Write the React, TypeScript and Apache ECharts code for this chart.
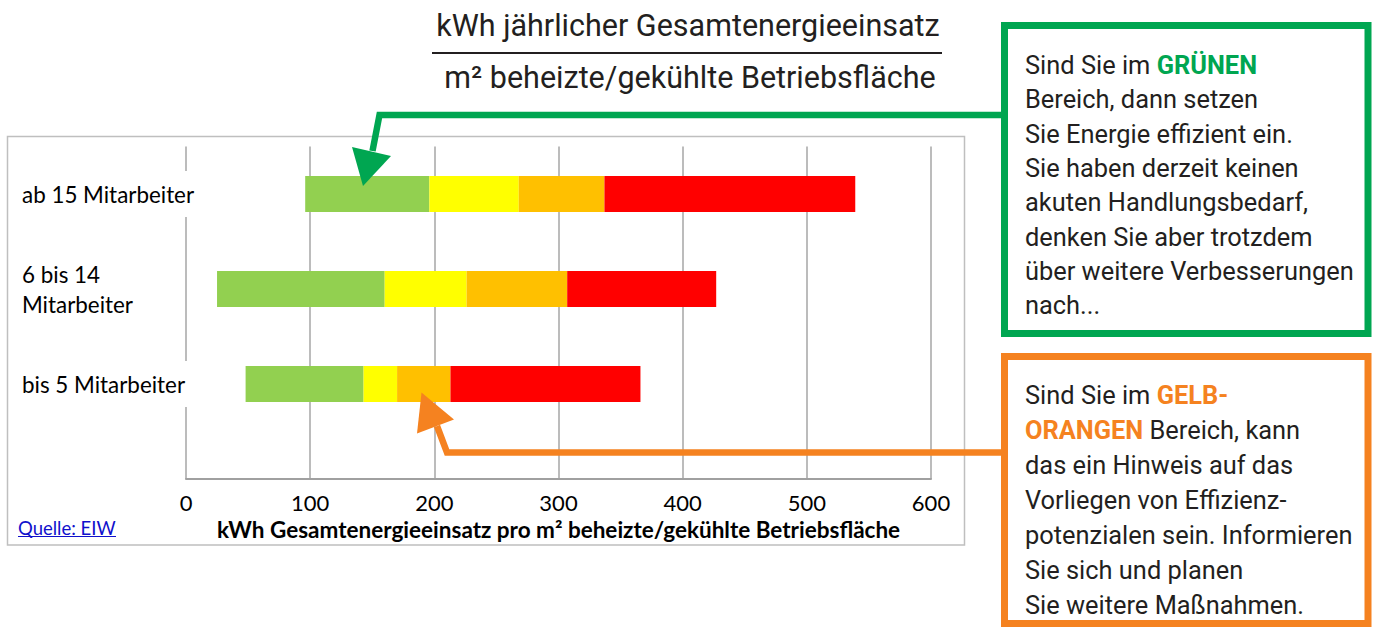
import React, { useEffect, useRef } from "react";
import * as echarts from "echarts";

// ---- data ----
const categories = ["bis 5 Mitarbeiter", "6 bis 14\nMitarbeiter", "ab 15 Mitarbeiter"];
const rangeStart = [48, 25, 96];
const greenEnd = [143, 160, 196];
const yellowEnd = [170, 226, 268];
const orangeEnd = [213, 307, 337];
const redEnd = [366, 427, 539];
const xTicks = [0, 100, 200, 300, 400, 500, 600];

const titleTop = "kWh jährlicher Gesamtenergieeinsatz";
const titleBottom = "m² beheizte/gekühlte Betriebsfläche";
const axisName = "kWh Gesamtenergieeinsatz pro m² beheizte/gekühlte Betriebsfläche";
const sourceText = "Quelle: EIW";
const greenBoxText =
  "Sind Sie im {g|GRÜNEN}\nBereich, dann setzen\nSie Energie effizient ein.\nSie haben derzeit keinen\nakuten Handlungsbedarf,\ndenken Sie aber trotzdem\nüber weitere Verbesserungen\nnach...";
const orangeBoxText =
  "Sind Sie im {o|GELB-}\n{o|ORANGEN} Bereich, kann\ndas ein Hinweis auf das\nVorliegen von Effizienz-\npotenzialen sein. Informieren\nSie sich und planen\nSie weitere Maßnahmen.";

const SLOTS = 8;
const slotOf = (i: number) => 2 + 2 * i;

function toSlots(values: number[]) {
  const arr: (number | null)[] = new Array(SLOTS).fill(null);
  values.forEach((v, i) => {
    arr[slotOf(i)] = v;
  });
  return arr;
}

const diff = (a: number[], b: number[]) => a.map((v, i) => +(v - b[i]).toFixed(2));

const CHART_FONT = "Lato, 'Open Sans', sans-serif";
const BOX_FONT = "Roboto, 'Noto Sans', sans-serif";
const GREEN = "#00A651";
const ORANGE = "#F58220";
const BOX_FS = 25.4;

export default function App() {
  const ref = useRef<HTMLDivElement>(null);

  useEffect(() => {
    if (!ref.current) return;
    const chart = echarts.init(ref.current, null, { renderer: "svg" });

    const yData: string[] = new Array(SLOTS).fill("");
    categories.forEach((c, i) => {
      yData[slotOf(i)] = c;
    });

    const segments = [
      { name: "base", values: rangeStart, color: "transparent" },
      { name: "grün", values: diff(greenEnd, rangeStart), color: "#92D050" },
      { name: "gelb", values: diff(yellowEnd, greenEnd), color: "#FFFF00" },
      { name: "orange", values: diff(orangeEnd, yellowEnd), color: "#FFC000" },
      { name: "rot", values: diff(redEnd, orangeEnd), color: "#FF0000" },
    ];

    const option: any = {
      animation: false,
      backgroundColor: "#ffffff",
      grid: { left: 186, top: 146.5, width: 745, height: 332.5, containLabel: false },
      xAxis: {
        type: "value",
        min: xTicks[0],
        max: xTicks[xTicks.length - 1],
        interval: xTicks[1] - xTicks[0],
        axisLine: { show: true, lineStyle: { color: "#a0a0a0", width: 2 } },
        axisTick: { show: false },
        splitLine: { show: true, lineStyle: { color: "#a6a6a6", width: 1.5 } },
        axisLabel: { color: "#000", fontSize: 22, fontFamily: CHART_FONT, margin: 12 },
        name: axisName,
        nameLocation: "middle",
        nameGap: 37,
        nameTextStyle: { color: "#000", fontSize: 22.5, fontWeight: "bold", fontFamily: CHART_FONT },
      },
      yAxis: {
        type: "category",
        data: yData,
        boundaryGap: false,
        z: 5,
        axisLine: { show: false },
        axisTick: { show: false },
        splitLine: { show: false },
        axisLabel: {
          interval: (_index: number, value: string) => value !== "",
          align: "left",
          margin: 166,
          color: "#000",
          fontSize: 22.4,
          lineHeight: 30,
          fontFamily: CHART_FONT,
          backgroundColor: "#ffffff",
          padding: [8, 3, 8, 2],
        },
      },
      series: segments.map((s) => ({
        type: "bar",
        name: s.name,
        stack: "total",
        barWidth: 36,
        data: toSlots(s.values),
        itemStyle: { color: s.color },
        silent: s.name === "base",
      })),
      graphic: [
        // chart frame
        {
          type: "rect",
          shape: { x: 7.5, y: 136.5, width: 957, height: 408.5 },
          style: { fill: "none", stroke: "#bfbfbf", lineWidth: 1.5 },
          z: 1,
        },
        // title fraction
        {
          type: "text",
          x: 688,
          y: 25,
          style: {
            text: titleTop,
            align: "center",
            verticalAlign: "middle",
            fontSize: 30.5,
            fontFamily: BOX_FONT,
            fill: "#231f20",
          },
        },
        {
          type: "line",
          shape: { x1: 432, y1: 53, x2: 942, y2: 53 },
          style: { stroke: "#231f20", lineWidth: 2 },
        },
        {
          type: "text",
          x: 690,
          y: 77,
          style: {
            text: titleBottom,
            align: "center",
            verticalAlign: "middle",
            fontSize: 30.5,
            fontFamily: BOX_FONT,
            fill: "#231f20",
          },
        },
        // source link
        {
          type: "text",
          x: 18,
          y: 528,
          style: {
            text: sourceText,
            align: "left",
            verticalAlign: "middle",
            fontSize: 18.5,
            fontFamily: CHART_FONT,
            fill: "#1010cc",
          },
        },
        {
          type: "line",
          shape: { x1: 18, y1: 536.5, x2: 116, y2: 536.5 },
          style: { stroke: "#1010cc", lineWidth: 1.2 },
        },
        // green arrow
        {
          type: "polyline",
          shape: { points: [[1002, 115], [379.5, 115], [372.5, 151]] },
          style: { stroke: GREEN, lineWidth: 6.5, fill: "none", lineJoin: "miter" },
          z: 20,
        },
        {
          type: "polygon",
          shape: { points: [[352, 147], [391, 156], [363, 186]] },
          style: { fill: GREEN },
          z: 20,
        },
        // orange arrow
        {
          type: "polyline",
          shape: { points: [[1002, 452.5], [447, 452.5], [437, 426]] },
          style: { stroke: ORANGE, lineWidth: 6.5, fill: "none", lineJoin: "miter" },
          z: 20,
        },
        {
          type: "polygon",
          shape: { points: [[421.5, 392.5], [417, 433.5], [454, 419.5]] },
          style: { fill: ORANGE },
          z: 20,
        },
        // green box
        {
          type: "rect",
          shape: { x: 1004.5, y: 25.5, width: 363.5, height: 308 },
          style: { fill: "#ffffff", stroke: GREEN, lineWidth: 7 },
          z: 21,
        },
        {
          type: "text",
          x: 1025,
          y: 48,
          z: 22,
          style: {
            text: greenBoxText,
            align: "left",
            verticalAlign: "top",
            fontSize: BOX_FS,
            fontFamily: BOX_FONT,
            fill: "#231f20",
            lineHeight: 34.3,
            rich: {
              g: { fill: GREEN, fontWeight: "bold", fontSize: BOX_FS, fontFamily: BOX_FONT, lineHeight: 34.3 },
            },
          },
        },
        // orange box
        {
          type: "rect",
          shape: { x: 1004.5, y: 356.5, width: 363.5, height: 267 },
          style: { fill: "#ffffff", stroke: ORANGE, lineWidth: 7 },
          z: 21,
        },
        {
          type: "text",
          x: 1025,
          y: 377.5,
          z: 22,
          style: {
            text: orangeBoxText,
            align: "left",
            verticalAlign: "top",
            fontSize: BOX_FS,
            fontFamily: BOX_FONT,
            fill: "#231f20",
            lineHeight: 35,
            rich: {
              o: { fill: ORANGE, fontWeight: "bold", fontSize: BOX_FS, fontFamily: BOX_FONT, lineHeight: 35 },
            },
          },
        },
      ],
    };

    chart.setOption(option);
    return () => chart.dispose();
  }, []);

  return (
    <div
      ref={ref}
      style={{ position: "fixed", left: 0, top: 0, width: 1375, height: 628, background: "#fff" }}
    />
  );
}
